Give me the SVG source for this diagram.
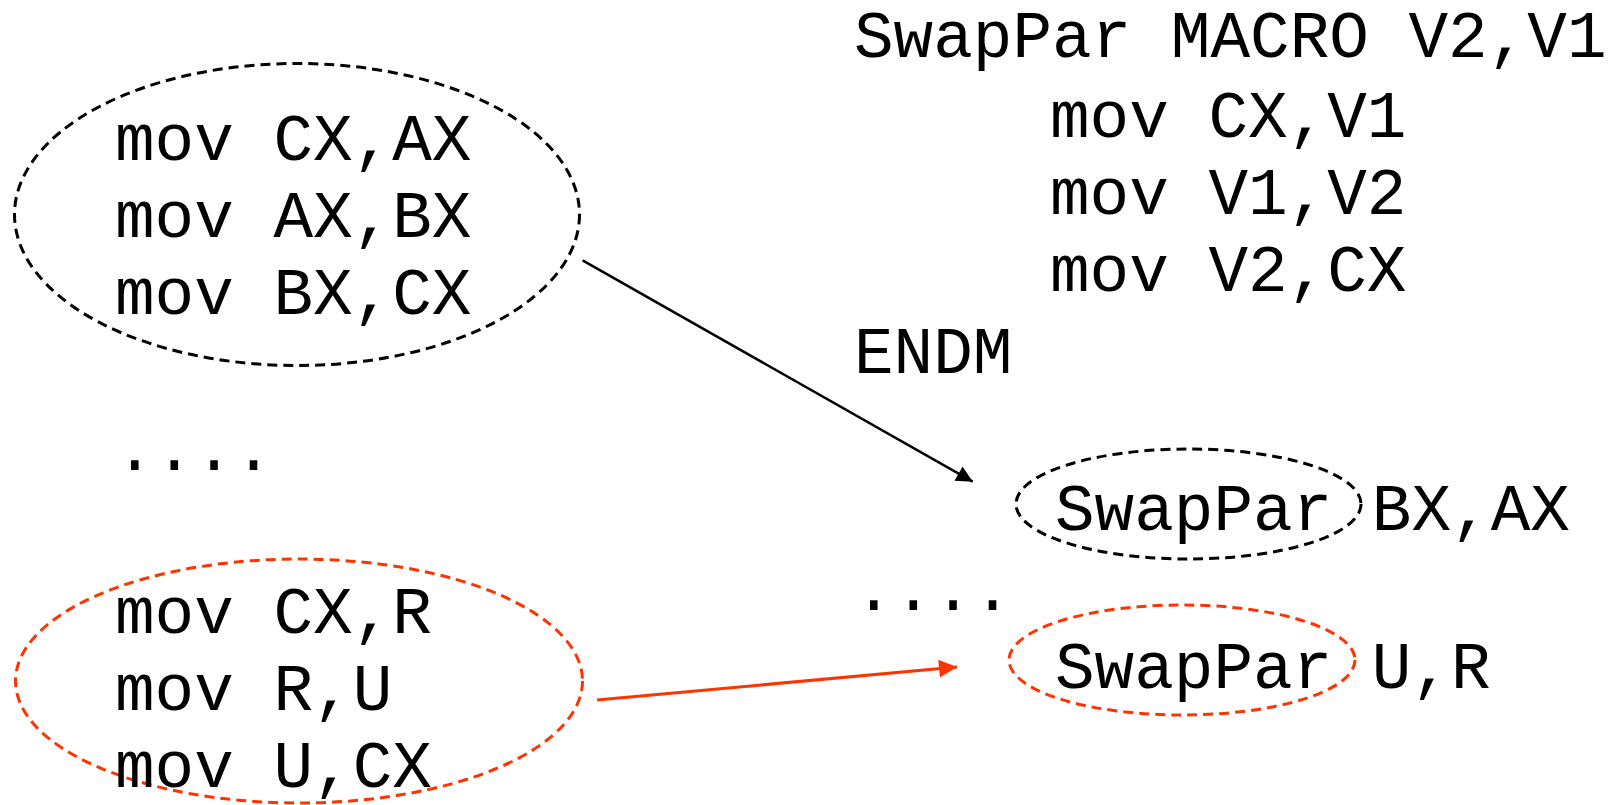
<svg xmlns="http://www.w3.org/2000/svg" width="1614" height="805" viewBox="0 0 1614 805">
<style>
text{font-family:"Liberation Mono","Courier New",monospace;font-size:66px;fill:#000}
.blk{fill:none;stroke:#000;stroke-width:3;stroke-dasharray:10 6}
.red{fill:none;stroke:#ff3300;stroke-width:3;stroke-dasharray:10 6}
</style>
<defs>
<marker id="ab" viewBox="0 0 10 10" refX="10" refY="5" markerWidth="8" markerHeight="6.5" markerUnits="strokeWidth" orient="auto"><path d="M0,0 L10,5 L0,10 z" fill="#000"/></marker>
<marker id="ar" viewBox="0 0 10 10" refX="10" refY="5" markerWidth="7" markerHeight="6" markerUnits="strokeWidth" orient="auto"><path d="M0,0 L10,5 L0,10 z" fill="#ff3300"/></marker>
</defs>
<g id="block1">
<ellipse class="blk" cx="297" cy="214.5" rx="282.5" ry="151"/>
<text x="115" y="160">mov CX,AX</text>
<text x="115" y="237">mov AX,BX</text>
<text x="115" y="314">mov BX,CX</text>
</g>
<g id="dots1"><text x="115" y="470">....</text></g>
<g id="block2">
<ellipse class="red" cx="299" cy="681" rx="283.5" ry="122"/>
<text x="115" y="633">mov CX,R</text>
<text x="115" y="710">mov R,U</text>
<text x="115" y="787">mov U,CX</text>
</g>
<g id="macro">
<text x="854" y="57">SwapPar MACRO V2,V1</text>
<text x="1050" y="137">mov CX,V1</text>
<text x="1050" y="214">mov V1,V2</text>
<text x="1050" y="291">mov V2,CX</text>
<text x="854" y="373">ENDM</text>
</g>
<g id="call1">
<ellipse class="blk" cx="1188.5" cy="504" rx="172.5" ry="55"/>
<text x="1055" y="530">SwapPar BX,AX</text>
</g>
<g id="dots2"><text x="854" y="610">....</text></g>
<g id="call2">
<ellipse class="red" cx="1182" cy="660" rx="173" ry="55"/>
<text x="1055" y="688">SwapPar U,R</text>
</g>
<g id="connectors">
<line x1="582.6" y1="260.4" x2="972.7" y2="481.7" stroke="#000" stroke-width="2.5" marker-end="url(#ab)"/>
<line x1="597" y1="700" x2="957" y2="667" stroke="#ff3300" stroke-width="3" marker-end="url(#ar)"/>
</g>
</svg>
